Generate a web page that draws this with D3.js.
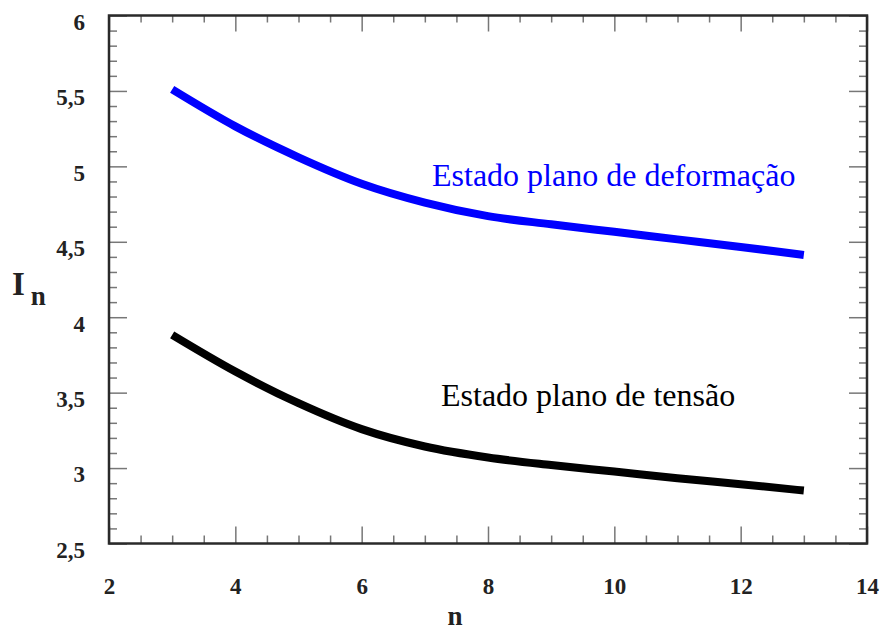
<!DOCTYPE html>
<html>
<head>
<meta charset="utf-8">
<script src="https://cdn.jsdelivr.net/npm/d3@7"></script>
<style>
  body { margin: 0; background: #fff; }
  svg { display: block; }
  .tick text { font-family: 'Liberation Serif', 'Times New Roman', serif; font-weight: bold; font-size: 23px; fill: #222; }
  .domain { display: none; }
  .tick line { stroke: #777; stroke-width: 1.5; }
  .serif { font-family: 'Liberation Serif', 'Times New Roman', serif; }
</style>
</head>
<body>
<svg></svg>
<script>
// data
var nValues = [3, 4, 5, 6, 7, 8, 9, 10, 11, 12, 13];
var planeStrain = [5.51, 5.265, 5.06, 4.885, 4.76, 4.67, 4.616, 4.566, 4.516, 4.466, 4.413];
var planeStress = [3.883, 3.64, 3.43, 3.258, 3.143, 3.07, 3.02, 2.977, 2.933, 2.893, 2.851];
var xTicks = [2, 4, 6, 8, 10, 12, 14];
var xTickLabels = ["2", "4", "6", "8", "10", "12", "14"];
var yTicks = [2.5, 3, 3.5, 4, 4.5, 5, 5.5, 6];
var yTickLabels = ["2,5", "3", "3,5", "4", "4,5", "5", "5,5", "6"];
var seriesNames = ["Estado plano de deformação", "Estado plano de tensão"];

var svgWidth = 881, svgHeight = 630;
var plotLeft = 109, plotRight = 867, plotTop = 15.5, plotBottom = 543.5;

var svg = d3.select("svg")
	.attr("width", svgWidth)
	.attr("height", svgHeight);

var x = d3.scaleLinear().domain([2, 14]).range([plotLeft, plotRight]);
var y = d3.scaleLinear().domain([2.5, 6]).range([plotBottom, plotTop]);

// minor tick positions
var xMinor = d3.range(2.5, 14, 0.5).filter(function(v) { return v % 2 !== 0; });
var yMinor = d3.range(26, 60, 1).map(function(v) { return v / 10; })
	.filter(function(v) { return Math.abs(v * 2 - Math.round(v * 2)) > 1e-6; });

drawAxes();
drawCurves();
drawLabels();

// This function draws the four sides of the frame with inward ticks
function drawAxes() {
	// bottom: minor then major with labels
	svg.append("g")
		.attr("transform", "translate(0," + plotBottom + ")")
		.call(d3.axisBottom(x).tickValues(xMinor).tickSize(-8).tickFormat(""));
	svg.append("g")
		.attr("transform", "translate(0," + plotBottom + ")")
		.call(d3.axisBottom(x).tickValues(xTicks).tickSize(-17).tickPadding(42)
			.tickFormat(function(d, i) { return xTickLabels[i]; }))
		.selectAll("text").attr("dy", "0.35em");

	// top
	svg.append("g")
		.attr("transform", "translate(0," + plotTop + ")")
		.call(d3.axisTop(x).tickValues(xMinor).tickSize(-7).tickFormat(""));
	svg.append("g")
		.attr("transform", "translate(0," + plotTop + ")")
		.call(d3.axisTop(x).tickValues(xTicks).tickSize(-16).tickFormat(""));

	// left
	svg.append("g")
		.attr("transform", "translate(" + plotLeft + ",0)")
		.call(d3.axisLeft(y).tickValues(yMinor).tickSize(-8).tickFormat(""));
	svg.append("g")
		.attr("transform", "translate(" + plotLeft + ",0)")
		.call(d3.axisLeft(y).tickValues(yTicks).tickSize(-18).tickPadding(24)
			.tickFormat(function(d, i) { return yTickLabels[i]; }))
		.selectAll("text").attr("dy", "0.6em");

	// right
	svg.append("g")
		.attr("transform", "translate(" + plotRight + ",0)")
		.call(d3.axisRight(y).tickValues(yMinor).tickSize(-8).tickFormat(""));
	svg.append("g")
		.attr("transform", "translate(" + plotRight + ",0)")
		.call(d3.axisRight(y).tickValues(yTicks).tickSize(-18).tickFormat(""));

	// frame
	svg.append("rect")
		.attr("x", plotLeft)
		.attr("y", plotTop)
		.attr("width", plotRight - plotLeft)
		.attr("height", plotBottom - plotTop)
		.attr("fill", "none")
		.attr("stroke", "#2a2a2a")
		.attr("stroke-width", 2.5);
}

// This function draws both curves
function drawCurves() {
	var line = d3.line()
		.x(function(d) { return x(d[0]); })
		.y(function(d) { return y(d[1]); })
		.curve(d3.curveMonotoneX);

	var series = [
		{ values: planeStrain, color: "#0000ff" },
		{ values: planeStress, color: "#000" }
	];

	svg.selectAll("path.curve")
		.data(series)
		.enter()
		.append("path")
		.attr("class", "curve")
		.attr("d", function(s) { return line(d3.zip(nValues, s.values)); })
		.attr("fill", "none")
		.attr("stroke", function(s) { return s.color; })
		.attr("stroke-width", 8);
}

// This function writes the series names and axis titles
function drawLabels() {
	svg.append("text")
		.attr("class", "serif")
		.attr("x", 432)
		.attr("y", 186)
		.attr("font-size", 32)
		.attr("fill", "#0000ff")
		.text(seriesNames[0]);

	svg.append("text")
		.attr("class", "serif")
		.attr("x", 441)
		.attr("y", 406)
		.attr("font-size", 32)
		.attr("fill", "#000")
		.text(seriesNames[1]);

	// y title: I with subscript n
	var yTitle = svg.append("text")
		.attr("class", "serif")
		.attr("x", 12)
		.attr("y", 295)
		.attr("font-weight", "bold")
		.attr("fill", "#222");
	yTitle.append("tspan").attr("font-size", 33).text("I");
	yTitle.append("tspan").attr("font-size", 27).attr("dx", 6).attr("dy", 10).text("n");

	svg.append("text")
		.attr("class", "serif")
		.attr("x", (plotLeft + plotRight) / 2 - 33)
		.attr("y", 625)
		.attr("text-anchor", "middle")
		.attr("font-weight", "bold")
		.attr("font-size", 27)
		.attr("fill", "#222")
		.text("n");
}
</script>
</body>
</html>
